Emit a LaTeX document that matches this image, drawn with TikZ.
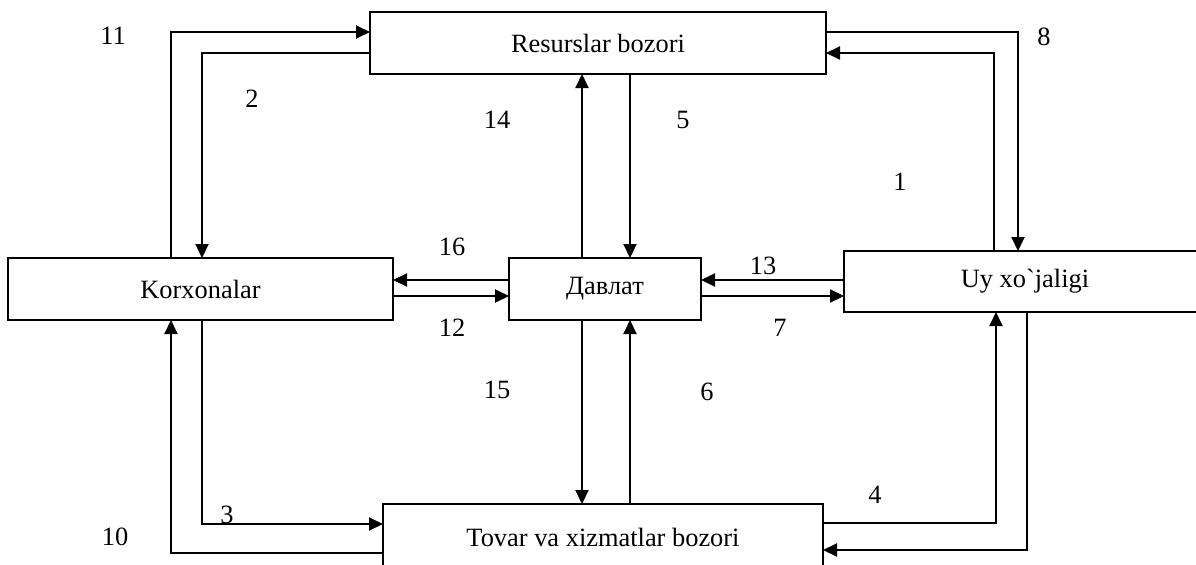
\documentclass[tikz,border=0pt]{standalone}
\usepackage{fontspec}
\setmainfont{Liberation Serif}
\usetikzlibrary{arrows.meta}

\begin{document}
\begin{tikzpicture}[
     x=0.5pt, y=-0.5pt,
     font=\fontsize{13.2}{15}\selectfont,
        box/.style = {rectangle, draw, line width=0.7pt, inner sep=0pt, outer sep=0pt},
       flow/.style = {line width=1pt, -{Triangle[length=7pt,width=6.5pt]}},
        num/.style = {inner sep=1pt}
                        ]
\useasboundingbox (0,0) rectangle (1196,564);
% blocks
\node (res)   [box, minimum width=228pt, minimum height=31pt] at (598,43) {Resurslar bozori};
\node (korx)  [box, minimum width=192.5pt, minimum height=31pt] at (200.5,289) {Korxonalar};
\node (davl)  [box, minimum width=96pt, minimum height=31pt] at (605,289) {Давлат};
\node (uy)    [box, minimum width=181pt, minimum height=30.5pt] at (1025,281.5) {Uy xo\textasciigrave jaligi};
\node (tovar) [box, minimum width=220pt, minimum height=33pt] at (603,537) {Tovar va xizmatlar bozori};
% bend points
\coordinate (k1) at (171,32);
\coordinate (k2) at (202,53);
\coordinate (u1) at (994,53);
\coordinate (u2) at (1018,32);
\coordinate (k3) at (202,524);
\coordinate (k4) at (171,553);
\coordinate (u3) at (996,523);
\coordinate (u4) at (1027,550);
\coordinate (m1) at (582,280);
\coordinate (m2) at (630,296);
% flows
\draw[flow] (k1 |- korx.north) |- (k1 -| res.west);
\draw[flow] (k2 -| res.west) -| (k2 |- korx.north);
\draw[flow] (u1 |- uy.north) |- (u1 -| res.east);
\draw[flow] (u2 -| res.east) -| (u2 |- uy.north);
\draw[flow] (k3 |- korx.south) |- (k3 -| tovar.west);
\draw[flow] (k4 -| tovar.west) -| (k4 |- korx.south);
\draw[flow] (u3 -| tovar.east) -| (u3 |- uy.south);
\draw[flow] (u4 |- uy.south) |- (u4 -| tovar.east);
\draw[flow] (m1 |- davl.north) -- (m1 |- res.south);
\draw[flow] (m2 |- res.south) -- (m2 |- davl.north);
\draw[flow] (m1 |- davl.south) -- (m1 |- tovar.north);
\draw[flow] (m2 |- tovar.north) -- (m2 |- davl.south);
\draw[flow] (m1 -| davl.west) -- (m1 -| korx.east);
\draw[flow] (m2 -| korx.east) -- (m2 -| davl.west);
\draw[flow] (m1 -| uy.west) -- (m1 -| davl.east);
\draw[flow] (m2 -| davl.east) -- (m2 -| uy.west);
% numbers
\node (n11) [num] at (113,36)  {11};
\node (n2)  [num] at (252,99)  {2};
\node (n14) [num] at (497,120) {14};
\node (n5)  [num] at (683,120) {5};
\node (n8)  [num] at (1044,37) {8};
\node (n1)  [num] at (900,182) {1};
\node (n16) [num] at (452,247) {16};
\node (n13) [num] at (763,266) {13};
\node (n12) [num] at (452,328) {12};
\node (n7)  [num] at (780,328) {7};
\node (n15) [num] at (497,390) {15};
\node (n6)  [num] at (707,392) {6};
\node (n4)  [num] at (875,495) {4};
\node (n3)  [num] at (227,515) {3};
\node (n10) [num] at (115,537) {10};
\end{tikzpicture}
\end{document}
